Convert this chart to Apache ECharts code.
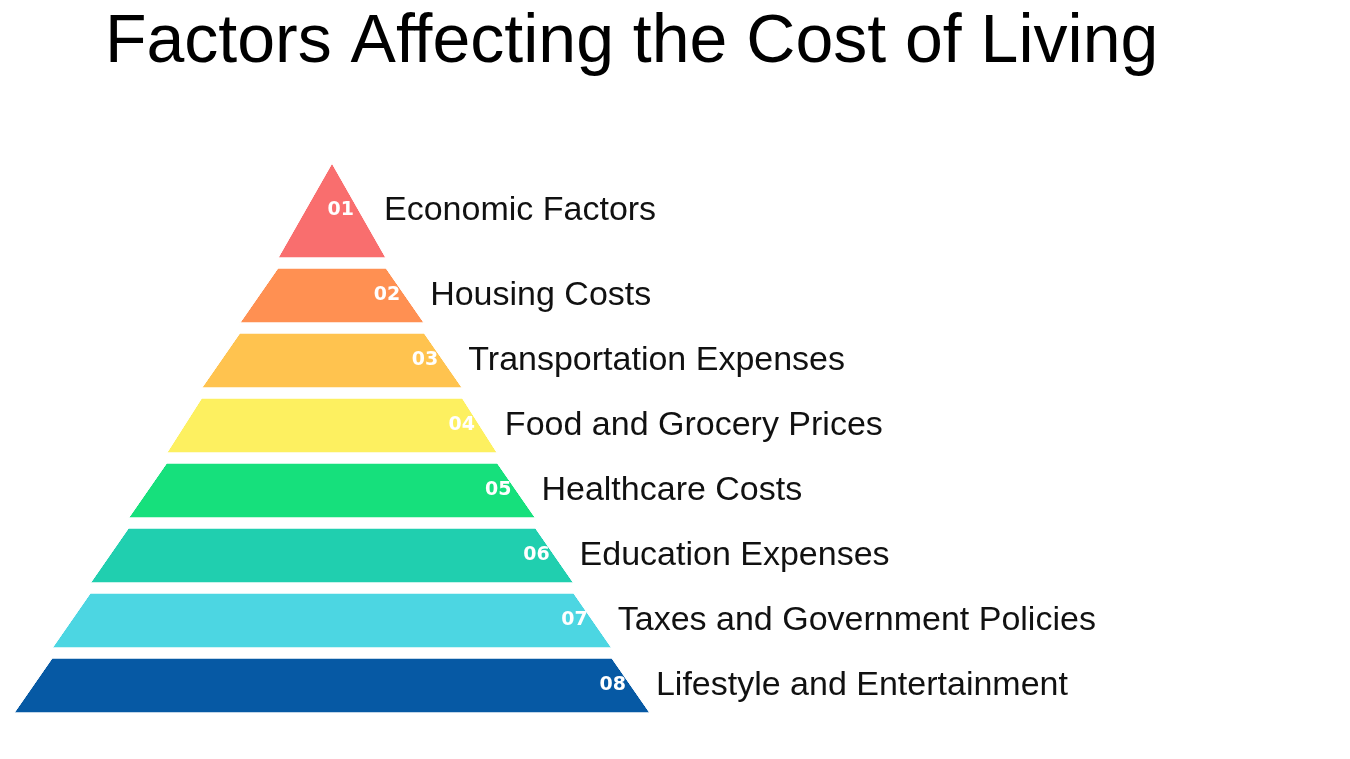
<!DOCTYPE html>
<html>
<head>
<meta charset="utf-8">
<script src="https://cdn.jsdelivr.net/npm/echarts@6/dist/echarts.min.js"></script>
<style>html,body{margin:0;background:#fff}#chart{width:1350px;height:759px}</style>
</head>
<body>
<div id="chart"></div>
<script>
const factors = [
  'Economic Factors', 'Housing Costs', 'Transportation Expenses', 'Food and Grocery Prices',
  'Healthcare Costs', 'Education Expenses', 'Taxes and Government Policies', 'Lifestyle and Entertainment'
];
const badges = ['01', '02', '03', '04', '05', '06', '07', '08'];
// relative width of each layer's base
const layerWidths = [17, 29, 41, 52, 64, 76, 88, 100];
const colors = ['#F96E6E', '#FF9052', '#FFC34F', '#FDF060', '#16E07C', '#20CFAF', '#4CD6E2', '#0659A4'];
const labelNudge = [[17, 0], [0, -20], [0, -19], [0, -20], [0, -19], [0, -18], [0, -17], [0, 0]];
const badgeNudge = [[2, 26], [-18, 5], [-16, 6], [-17, 6], [-23, 4], [-24, 0], [-29, 1], [-29, 5]];

const chart = echarts.init(document.getElementById('chart'));

const base = {
  type: 'funnel',
  sort: 'ascending',
  left: 14, top: 163, width: 636, height: 550,
  min: 0, max: 100, minSize: 0, maxSize: '100%',
  gap: 10,
  labelLine: { show: false },
  emphasis: { disabled: true },
  silent: true
};

chart.setOption({
  animation: false,
  title: {
    text: 'Factors Affecting the Cost of Living',
    left: 100, top: 4,
    textStyle: { fontFamily: 'Liberation Sans', fontSize: 68, fontWeight: 'normal', color: '#000' }
  },
  series: [
    Object.assign({}, base, {
      data: layerWidths.map((v, i) => ({
        name: factors[i], value: v,
        itemStyle: { color: colors[i], height: i === 0 ? 95 : 55 },
        label: { offset: labelNudge[i] }
      })),
      label: {
        position: 'right',
        formatter: '{b}',
        fontFamily: 'Liberation Sans', fontSize: 34, color: '#111'
      }
    }),
    Object.assign({}, base, {
      data: layerWidths.map((v, i) => ({
        name: badges[i], value: v,
        itemStyle: { color: 'transparent', height: i === 0 ? 95 : 55 },
        label: { offset: badgeNudge[i] }
      })),
      label: {
        position: 'insideRight',
        formatter: '{b}',
        fontFamily: 'DejaVu Sans', fontSize: 19, fontWeight: 'bold', color: '#fff'
      }
    })
  ]
});
</script>
</body>
</html>
